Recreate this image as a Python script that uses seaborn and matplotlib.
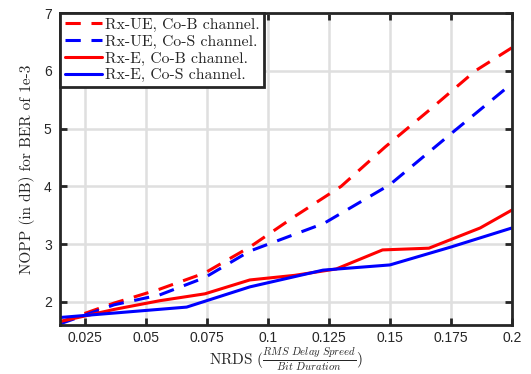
import numpy as np
import pandas as pd
import matplotlib
matplotlib.use("Agg")
import matplotlib.pyplot as plt
import seaborn as sns

# NOPP (dB) versus normalised RMS delay spread, per receiver / channel model
ue_cob_x = [0.0148, 0.037, 0.0556, 0.0741, 0.0926, 0.111, 0.13, 0.148, 0.167, 0.185, 0.2]
ue_cob_y = [1.65, 1.98, 2.22, 2.50, 2.95, 3.48, 4.00, 4.68, 5.35, 6.00, 6.40]

ue_cos_x = [0.0148, 0.037, 0.0556, 0.0741, 0.0926, 0.123, 0.15, 0.175, 0.2]
ue_cos_y = [1.62, 1.95, 2.12, 2.42, 2.88, 3.36, 4.03, 4.91, 5.78]

e_cob_x = [0.0148, 0.037, 0.0556, 0.0742, 0.0926, 0.111, 0.128, 0.147, 0.166, 0.187, 0.2]
e_cob_y = [1.66, 1.87, 2.02, 2.14, 2.38, 2.46, 2.57, 2.90, 2.93, 3.28, 3.59]

e_cos_x = [0.0148, 0.0667, 0.0926, 0.1226, 0.15, 0.175, 0.2]
e_cos_y = [1.73, 1.91, 2.26, 2.55, 2.64, 2.95, 3.28]

series_names = ["Rx-UE, Co-B channel.", "Rx-UE, Co-S channel.",
                "Rx-E, Co-B channel.", "Rx-E, Co-S channel."]
x_ticks = [0.025, 0.05, 0.075, 0.1, 0.125, 0.15, 0.175, 0.2]
x_tick_labels = ["0.025", "0.05", "0.075", "0.1", "0.125", "0.15", "0.175", "0.2"]
y_ticks = [2, 3, 4, 5, 6, 7]

frames = []
for name, xs, ys in zip(series_names,
                        [ue_cob_x, ue_cos_x, e_cob_x, e_cos_x],
                        [ue_cob_y, ue_cos_y, e_cob_y, e_cos_y]):
    frames.append(pd.DataFrame({"nrds": xs, "nopp": ys, "series": name}))
df = pd.concat(frames, ignore_index=True)

sns.set_style("white")
plt.rcParams["mathtext.fontset"] = "cm"
plt.rcParams["axes.unicode_minus"] = False

fig = plt.figure(figsize=(5.31, 3.74), dpi=100)
ax = fig.add_axes([0.113, 0.131, 0.851, 0.834])

palette = {series_names[0]: "#ff0000", series_names[1]: "#0000ff",
           series_names[2]: "#ff0000", series_names[3]: "#0000ff"}
dashes = {series_names[0]: (5, 3.5), series_names[1]: (5, 3.5),
          series_names[2]: "", series_names[3]: ""}

sns.lineplot(data=df, x="nrds", y="nopp", hue="series", style="series",
             palette=palette, dashes=dashes, hue_order=series_names,
             style_order=series_names, estimator=None, sort=False,
             linewidth=2.2, ax=ax, legend=False)

ax.set_xlim(0.0148, 0.2)
ax.set_ylim(1.6, 7)
ax.set_xticks(x_ticks)
ax.set_xticklabels(x_tick_labels)
ax.set_yticks(y_ticks)
ax.grid(True, color="#dfdfdf", linewidth=1.8)
ax.set_axisbelow(True)
for sp in ax.spines.values():
    sp.set_visible(True)
    sp.set_color("#262626")
    sp.set_linewidth(2.0)
ax.tick_params(direction="in", length=5, width=2.0, color="#262626",
               labelsize=10, labelcolor="#262626",
               top=True, right=True, bottom=True, left=True, pad=6)
ax.tick_params(axis="x", pad=4.5)
for lab in ax.get_xticklabels() + ax.get_yticklabels():
    lab.set_family("Liberation Sans")

ax.set_xlabel(r"NRDS $(\frac{RMS\ Delay\ Spreed}{Bit\ Duration})$",
              family="cmr10", fontsize=11, color="#262626", labelpad=0.5)
ax.set_ylabel("NOPP (in dB) for BER of 1e-3", family="cmr10", fontsize=11,
              color="#262626", labelpad=6)

handles = ax.get_lines()[:4]
leg = ax.legend(handles, series_names, loc="upper left", borderaxespad=0,
                prop={"family": "cmr10", "size": 11.3}, frameon=True,
                fancybox=False, handlelength=2.4, handletextpad=0.15,
                borderpad=0.3, labelspacing=0.18, framealpha=1)
leg.get_frame().set_edgecolor("#262626")
leg.get_frame().set_linewidth(2.0)

fig.savefig("out.png", dpi=100)
